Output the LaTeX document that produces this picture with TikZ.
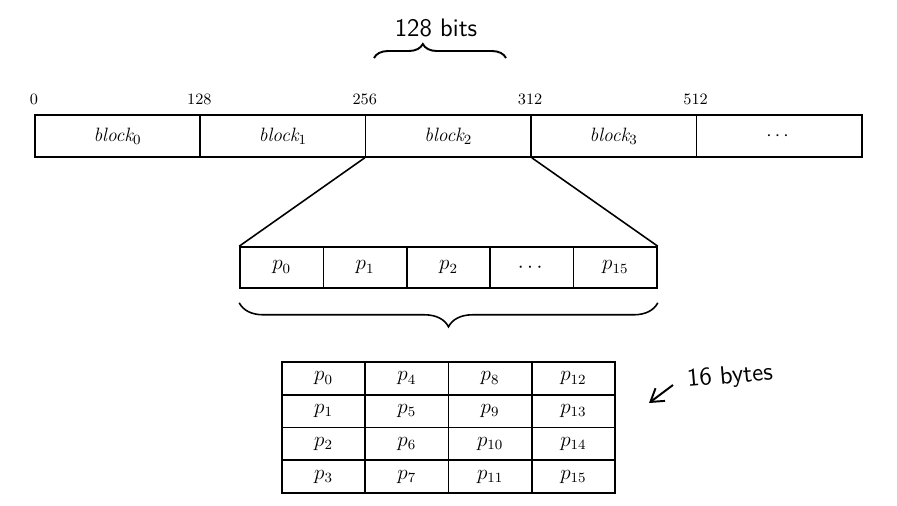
\documentclass[tikz,border=0pt]{standalone}
\usepackage{amsmath}
\usetikzlibrary{arrows.meta, positioning, decorations.pathreplacing}

\begin{document}
\begin{tikzpicture}[
      x=0.02cm, y=-0.02cm,
      >={Straight Barb[length=7pt, width=9pt]},
      blockcell/.style={rectangle, draw, line width=0.9pt, minimum width=3.31cm, minimum height=0.84cm, inner sep=0pt, font=\fontsize{11}{13}\selectfont},
      bytecell/.style={rectangle, draw, line width=0.9pt, minimum width=1.668cm, minimum height=0.82cm, inner sep=0pt, font=\large},
      gridcell/.style={rectangle, draw, line width=0.9pt, minimum width=1.665cm, minimum height=0.655cm, inner sep=0pt, font=\large},
      offset/.style={above=2pt, font=\small},
      hand/.style={font=\sffamily\Large},
      curly/.style={decorate, line width=0.9pt}
  ]
      \useasboundingbox (0,0) rectangle (897,505);

      % Message split into blocks
      \node[blockcell] (blk0) at (117.5, 136) {$\textit{block}_0$};
      \node[blockcell] (blk1) at (282.9, 136) {$\textit{block}_1$};
      \node[blockcell] (blk2) at (448.3, 136) {$\textit{block}_2$};
      \node[blockcell] (blk3) at (613.7, 136) {$\textit{block}_3$};
      \node[blockcell] (blk4) at (779.1, 136) {$\cdots$};

      % Bit offsets
      \node[offset] (off0) at (blk0.north west) {0};
      \node[offset] (off1) at (blk1.north west) {128};
      \node[offset] (off2) at (blk2.north west) {256};
      \node[offset] (off3) at (blk3.north west) {312};
      \node[offset] (off4) at (blk4.north west) {512};

      % Handwritten note on the block size
      \node[hand] (bits) at (436, 28) {128 bits};
      \coordinate (bitsl) at (374, 58);
      \coordinate (bitsr) at (506, 58);
      \draw[curly, line width=1.1pt, decoration={brace, amplitude=0.28cm, aspect=0.37}] (bitsl) -- (bitsr);

      % One block split into bytes
      \node[bytecell] (b0) at (281.7, 267.5) {$p_{0}$};
      \node[bytecell] (b1) at (365.1, 267.5) {$p_{1}$};
      \node[bytecell] (b2) at (448.5, 267.5) {$p_{2}$};
      \node[bytecell] (b3) at (531.9, 267.5) {$\cdots$};
      \node[bytecell] (b4) at (615.3, 267.5) {$p_{15}$};

      \draw[line width=0.9pt] (blk2.south west) -- (b0.north west);
      \draw[line width=0.9pt] (blk2.south east) -- (b4.north east);
      \draw[curly, decoration={brace, amplitude=0.48cm}] ([yshift=-0.28cm]b4.south east) -- ([yshift=-0.28cm]b0.south west);

      % Bytes as a 4x4 state, column by column
      \foreach \c in {0,...,3}
        \foreach \r in {0,...,3} {
          \pgfmathtruncatemacro{\k}{4*\c+\r}
          \node[gridcell] (g\c\r) at (323.6+83.25*\c, 378.4+32.75*\r) {$p_{\k}$};
        }

      % Handwritten note on the state size
      \node[hand, rotate=5] (bytes) at (730, 377) {16 bytes};
      \coordinate (arrs) at (673, 385);
      \coordinate (arre) at (649, 403);
      \draw[->, line width=1.1pt] (arrs) -- (arre);

  \end{tikzpicture}
\end{document}
